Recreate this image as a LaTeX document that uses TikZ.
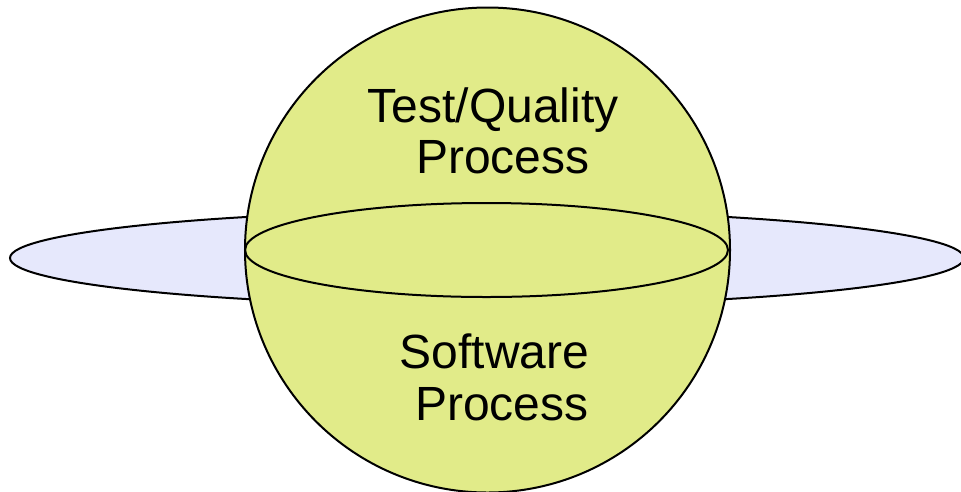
\documentclass[tikz,border=0pt]{standalone}
\usepackage{fontspec}
\setmainfont{Liberation Sans}
\definecolor{spherefill}{RGB}{225,235,137}
\definecolor{ringfill}{RGB}{230,232,252}
\begin{document}
\begin{tikzpicture}[x=1pt,y=-1pt,
  outline/.style={draw=black,line width=2pt},
  label/.style={font=\fontsize{48}{52}\selectfont,anchor=base,inner sep=0pt}]
\useasboundingbox (0,0) rectangle (961,491);
% ring around the sphere
\fill[ringfill] (487,258) ellipse [x radius=477,y radius=47.5];
\draw[outline] (487,258) ellipse [x radius=477,y radius=47.5];
% sphere
\fill[spherefill] (487.5,250) circle [radius=242.5];
\draw[outline] (487.5,250) circle [radius=242.5];
% equator
\draw[outline] (486.5,250) ellipse [x radius=241.5,y radius=47];
% labels
\node[label] (tq1) at (493,122) {Test/Quality};
\node[label] (tq2) at (503,173) {Process};
\node[label] (sw1) at (494.5,368) {Software};
\node[label] (sw2) at (502,420) {Process};
\end{tikzpicture}
\end{document}
